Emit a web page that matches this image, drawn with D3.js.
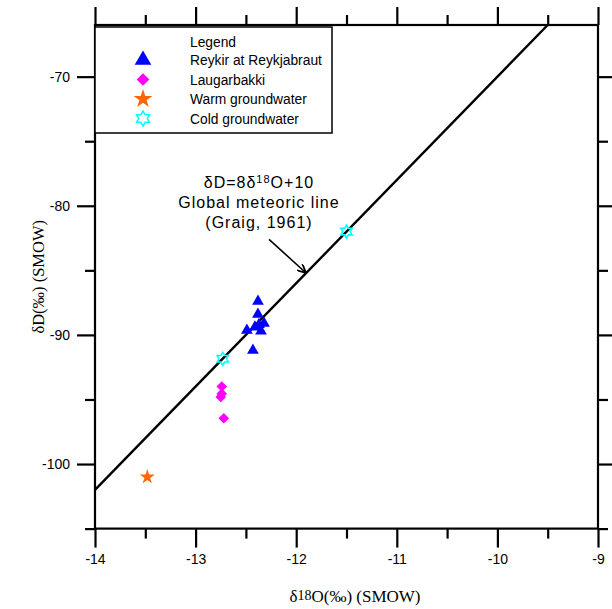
<!DOCTYPE html>
<html>
<head>
<meta charset="utf-8">
<script src="https://cdn.jsdelivr.net/npm/d3@7"></script>
<style>
  html, body { margin: 0; padding: 0; background: #fff; }
  svg { display: block; }
  .tick text { font-family: "Liberation Sans", Arial, sans-serif; font-size: 14px; fill: #000; }
</style>
</head>
<body>
<svg id="chart" width="612" height="609"></svg>
<script>
// Isotope samples: δ18O (‰ SMOW) and δD (‰ SMOW)
const reykirO = [-12.38, -12.38, -12.32, -12.37, -12.41, -12.49, -12.35, -12.43];
const reykirD = [-87.4, -88.4, -89.1, -89.2, -89.4, -89.65, -89.7, -91.2];
const laugarO = [-12.74, -12.74, -12.75, -12.72];
const laugarD = [-94.0, -94.55, -94.8, -96.45];
const warmO = [-13.48];
const warmD = [-101.0];
const coldO = [-12.73, -11.5];
const coldD = [-91.85, -82.0];

// Global meteoric water line: δD = 8·δ18O + 10
const gmwlSlope = 8;
const gmwlIntercept = 10;

const xMajor = [-14, -13, -12, -11, -10, -9];
const xMinor = [-13.5, -12.5, -11.5, -10.5, -9.5];
const yMajor = [-70, -80, -90, -100];
const yMinor = [-75, -85, -95, -105];

const legendLabels = ["Reykir at Reykjabraut", "Laugarbakki", "Warm groundwater", "Cold groundwater"];
const annotationLines = ["Global meteoric line", "(Graig, 1961)"];

const svg = d3.select("#chart");
const x = d3.scaleLinear().domain([-14, -9]).range([95, 598]);
const y = d3.scaleLinear().domain([-105, -66]).range([528.6, 25]);

const axisStroke = 2.2;
const plainNum = d => String(d);
function styleAxis(g) {
  g.select(".domain").remove();
  g.selectAll(".tick line").attr("stroke", "#000").attr("stroke-width", axisStroke);
}

const [x0, x1] = x.range();
const [yb, yt] = y.range();

// Bottom axis
svg.append("g").attr("transform", `translate(0,${yb})`)
  .call(d3.axisBottom(x).tickValues(xMajor).tickSize(19).tickPadding(6).tickFormat(plainNum))
  .call(styleAxis);
svg.append("g").attr("transform", `translate(0,${yb})`)
  .call(d3.axisBottom(x).tickValues(xMinor).tickSize(10).tickFormat(""))
  .call(styleAxis);
// Top axis
svg.append("g").attr("transform", `translate(0,${yt})`)
  .call(d3.axisTop(x).tickValues(xMajor).tickSize(18).tickFormat(""))
  .call(styleAxis);
svg.append("g").attr("transform", `translate(0,${yt})`)
  .call(d3.axisTop(x).tickValues(xMinor).tickSize(10).tickFormat(""))
  .call(styleAxis);
// Left axis
svg.append("g").attr("transform", `translate(${x0},0)`)
  .call(d3.axisLeft(y).tickValues(yMajor).tickSize(18).tickPadding(7).tickFormat(plainNum))
  .call(styleAxis);
svg.append("g").attr("transform", `translate(${x0},0)`)
  .call(d3.axisLeft(y).tickValues(yMinor).tickSize(10).tickFormat(""))
  .call(styleAxis);
// Right axis
svg.append("g").attr("transform", `translate(${x1},0)`)
  .call(d3.axisRight(y).tickValues(yMajor).tickSize(18).tickFormat(""))
  .call(styleAxis);
svg.append("g").attr("transform", `translate(${x1},0)`)
  .call(d3.axisRight(y).tickValues(yMinor).tickSize(10).tickFormat(""))
  .call(styleAxis);

// Frame
svg.append("rect")
  .attr("x", x0).attr("y", yt).attr("width", x1 - x0).attr("height", yb - yt)
  .attr("fill", "none").attr("stroke", "#000").attr("stroke-width", axisStroke);

// Meteoric water line, clipped to the frame
const gx0 = -14;
const gx1 = (y.domain()[1] - gmwlIntercept) / gmwlSlope;
svg.append("line")
  .attr("x1", x(gx0)).attr("y1", y(gmwlSlope * gx0 + gmwlIntercept))
  .attr("x2", x(gx1)).attr("y2", y(gmwlSlope * gx1 + gmwlIntercept))
  .attr("stroke", "#000").attr("stroke-width", 2.4);

// Marker shapes
function hexagram(r) {
  const pts = [];
  for (let i = 0; i < 12; i++) {
    const a = -Math.PI / 2 + i * Math.PI / 6;
    const rr = i % 2 === 0 ? r : r / Math.sqrt(3);
    pts.push([rr * Math.cos(a), rr * Math.sin(a)]);
  }
  return "M" + pts.map(p => p.join(",")).join("L") + "Z";
}
const triPath = s => d3.symbol(d3.symbolTriangle, s)();
const diaPath = s => d3.symbol(d3.symbolSquare, s)();
const starPath = s => d3.symbol(d3.symbolStar, s)();

function plotSeries(xs, ys, path, opts) {
  svg.append("g").selectAll("path").data(xs.map((v, i) => [v, ys[i]])).join("path")
    .attr("d", path)
    .attr("transform", d => `translate(${x(d[0])},${y(d[1])})${opts.rotate ? " rotate(45)" : ""}`)
    .attr("fill", opts.fill).attr("stroke", opts.stroke || "none")
    .attr("stroke-width", opts.sw || 0);
}

plotSeries(laugarO, laugarD, diaPath(56), { fill: "#ff00ff", rotate: true });
plotSeries(warmO, warmD, starPath(70), { fill: "#ff6600" });
plotSeries(coldO, coldD, hexagram(6.5), { fill: "none", stroke: "#00ffff", sw: 1.6 });
plotSeries(reykirO, reykirD, triPath(60), { fill: "#0000ff" });

// Legend
const lg = svg.append("g");
lg.append("rect").attr("x", 95).attr("y", 27).attr("width", 237).attr("height", 106)
  .attr("fill", "#fff").attr("stroke", "#000").attr("stroke-width", 1.5);
const legendFont = "'Liberation Sans', Arial, sans-serif";
lg.append("text").attr("x", 190).attr("y", 47).text("Legend")
  .attr("font-family", legendFont).attr("font-size", 13.8);
const legendMarks = [
  { d: triPath(120), fill: "#0000ff" },
  { d: diaPath(80), fill: "#ff00ff", rotate: true },
  { d: starPath(110), fill: "#ff6600" },
  { d: hexagram(7.5), fill: "none", stroke: "#00ffff", sw: 1.5 }
];
legendLabels.forEach((lab, i) => {
  const cy = 60 + i * 19.5;
  const m = legendMarks[i];
  lg.append("path").attr("d", m.d)
    .attr("transform", `translate(143,${cy})${m.rotate ? " rotate(45)" : ""}`)
    .attr("fill", m.fill).attr("stroke", m.stroke || "none").attr("stroke-width", m.sw || 0);
  lg.append("text").attr("x", 190).attr("y", cy + 5).text(lab)
    .attr("font-family", legendFont).attr("font-size", 13.8);
});

// Annotation for the meteoric line
const noteX = -12.37;
const noteY = [-78.62, -80.17, -81.72];
const ann = svg.append("g").attr("font-family", legendFont).attr("font-size", 16)
  .attr("text-anchor", "middle").attr("letter-spacing", 1);
const eq = ann.append("text").attr("x", x(noteX)).attr("y", y(noteY[0]));
eq.append("tspan").text("δD=8δ");
eq.append("tspan").text("18").attr("font-size", 11).attr("dy", -5);
eq.append("tspan").text("O+10").attr("dy", 5);
annotationLines.forEach((t, i) => {
  ann.append("text").attr("x", x(noteX)).attr("y", y(noteY[i + 1])).text(t);
});

// Arrow pointing at the line
svg.append("defs").append("marker").attr("id", "arrowHead")
  .attr("viewBox", "0 0 10 10").attr("refX", 9).attr("refY", 5)
  .attr("markerWidth", 9).attr("markerHeight", 9).attr("markerUnits", "userSpaceOnUse")
  .attr("orient", "auto")
  .append("path").attr("d", "M0,0L10,5L0,10").attr("fill", "none")
  .attr("stroke", "#000").attr("stroke-width", 2);
const arrowFrom = [-12.27, -82.6];
const arrowTo = [-11.91, -85.15];
svg.append("line")
  .attr("x1", x(arrowFrom[0])).attr("y1", y(arrowFrom[1]))
  .attr("x2", x(arrowTo[0])).attr("y2", y(arrowTo[1]))
  .attr("stroke", "#000").attr("stroke-width", 1.6).attr("marker-end", "url(#arrowHead)");

// Axis titles
const serif = "'Liberation Serif', 'Times New Roman', serif";
const xt = svg.append("text").attr("x", 355).attr("y", 602)
  .attr("text-anchor", "middle").attr("font-family", serif).attr("font-size", 17);
xt.append("tspan").text("δ");
xt.append("tspan").text("18").attr("font-size", 14).attr("dy", -2);
xt.append("tspan").text("O(‰) (SMOW)").attr("dy", 2);

svg.append("text")
  .attr("transform", `translate(44,${(yt + yb) / 2}) rotate(-90)`)
  .attr("text-anchor", "middle").attr("font-family", serif).attr("font-size", 16.5)
  .text("δD(‰) (SMOW)");
</script>
</body>
</html>
